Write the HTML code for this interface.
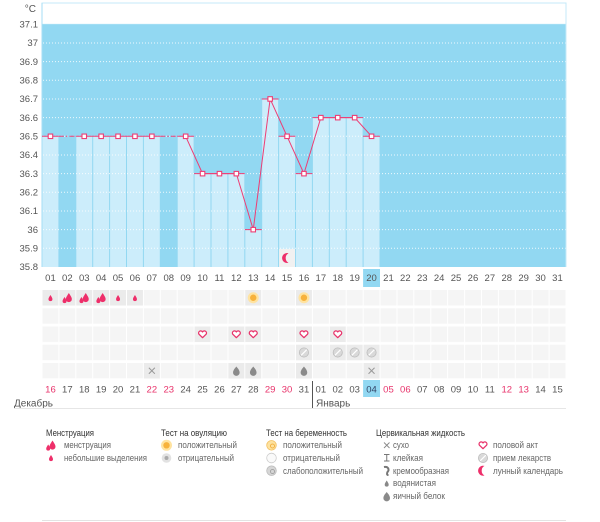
<!DOCTYPE html>
<html><head><meta charset="utf-8"><style>
html,body{margin:0;padding:0;background:#fff;}
svg{display:block;font-family:"Liberation Sans","DejaVu Sans",sans-serif;}
.yl{font-size:9.5px;fill:#555;text-anchor:end;}
.xl{font-size:9.5px;fill:#555;text-anchor:middle;}
.xr{font-size:9.5px;fill:#e8336b;text-anchor:middle;}
.lh{font-size:9px;fill:#333;}
.lt{font-size:9px;fill:#666;}
</style></head><body>
<svg width="600" height="522" viewBox="0 0 600 522" xmlns="http://www.w3.org/2000/svg">
<defs>
<path id="dS" d="M0,-3 C0.8,-1.6 2,-0.2 2,1.1 A2,2 0 0 1 -2,1.1 C-2,-0.2 -0.8,-1.6 0,-3Z" fill="#ee2f6a"/>
<g id="dB"><path d="M0,-4.5 C1.2,-2.4 3,-0.4 3,1.6 A3,3 0 0 1 -3,1.6 C-3,-0.4 -1.2,-2.4 0,-4.5Z" fill="#ee2f6a" transform="translate(1.5,-0.5)"/><use href="#dS" transform="translate(-2.8,2)"/></g>
<g id="sun"><circle r="5.5" fill="#ffe3a0"/><circle r="3.2" fill="#f7b23c"/></g>
<path id="heart" d="M0,3.2 L-3.6,-0.3 A1.9,1.9 0 0 1 0,-2.6 A1.9,1.9 0 0 1 3.6,-0.3 Z" fill="#fff" stroke="#e8336b" stroke-width="1.3" stroke-linejoin="round"/>
<g id="pill"><circle r="4.6" fill="#d9d9d9" stroke="#bdbdbd" stroke-width="0.8"/><line x1="-2.8" y1="2.8" x2="2.8" y2="-2.8" stroke="#fff" stroke-width="1.2"/></g>
<path id="egg" d="M0,-4.5 C1.6,-2.6 3.3,-0.6 3.3,1.6 A3.3,3.3 0 0 1 -3.3,1.6 C-3.3,-0.6 -1.6,-2.6 0,-4.5Z" fill="#8a8a8a"/>
<g id="xx" stroke="#999" stroke-width="1"><line x1="-3" y1="-3" x2="3" y2="3"/><line x1="-3" y1="3" x2="3" y2="-3"/></g>
<path id="moon" d="M1.5,-4.8 A5,5 0 1 0 1.5,4.8 A5.5,5.5 0 0 1 1.5,-4.8Z" fill="#ee2f6a"/>
<pattern id="cell" x="42" y="290" width="16.903" height="18.25" patternUnits="userSpaceOnUse"><rect x="0.5" y="0" width="15.9" height="15.5" fill="#f5f5f5"/></pattern>
</defs>

<!-- chart frame -->
<rect x="42" y="3" width="524" height="21.3" fill="#fff" stroke="#c4eaf8" stroke-width="1"/>
<rect x="42" y="24.3" width="524" height="242.7" fill="#92d8f2"/>
<!-- light bars -->
<g fill="#ccedfb">
<rect x="42.5" y="136.3" width="15.9" height="130.7"/>
<rect x="76.3" y="136.3" width="15.9" height="130.7"/>
<rect x="93.2" y="136.3" width="15.9" height="130.7"/>
<rect x="110.1" y="136.3" width="15.9" height="130.7"/>
<rect x="127.0" y="136.3" width="15.9" height="130.7"/>
<rect x="143.9" y="136.3" width="15.9" height="130.7"/>
<rect x="177.7" y="136.3" width="15.9" height="130.7"/>
<rect x="194.6" y="173.6" width="15.9" height="93.4"/>
<rect x="211.5" y="173.6" width="15.9" height="93.4"/>
<rect x="228.4" y="173.6" width="15.9" height="93.4"/>
<rect x="245.3" y="229.6" width="15.9" height="37.4"/>
<rect x="262.2" y="99.0" width="15.9" height="168"/>
<rect x="279.1" y="136.3" width="15.9" height="130.7"/>
<rect x="296.0" y="173.6" width="15.9" height="93.4"/>
<rect x="312.9" y="117.6" width="15.9" height="149.4"/>
<rect x="329.8" y="117.6" width="15.9" height="149.4"/>
<rect x="346.7" y="117.6" width="15.9" height="149.4"/>
<rect x="363.6" y="136.3" width="15.9" height="130.7"/>
</g>
<!-- dotted grid -->
<g stroke="#fff" stroke-width="1" stroke-dasharray="1,2" opacity="0.85">
<line x1="43" y1="43" x2="566" y2="43"/>
<line x1="43" y1="61.6" x2="566" y2="61.6"/>
<line x1="43" y1="80.3" x2="566" y2="80.3"/>
<line x1="43" y1="99" x2="566" y2="99"/>
<line x1="43" y1="117.6" x2="566" y2="117.6"/>
<line x1="43" y1="136.3" x2="566" y2="136.3"/>
<line x1="43" y1="155" x2="566" y2="155"/>
<line x1="43" y1="173.6" x2="566" y2="173.6"/>
<line x1="43" y1="192.3" x2="566" y2="192.3"/>
<line x1="43" y1="211" x2="566" y2="211"/>
<line x1="43" y1="229.6" x2="566" y2="229.6"/>
<line x1="43" y1="248.3" x2="566" y2="248.3"/>
</g>
<line x1="42" y1="3" x2="42" y2="267" stroke="#a6def4" stroke-width="1"/>
<line x1="566" y1="3" x2="566" y2="267" stroke="#c4eaf8" stroke-width="1"/>

<!-- moon cell in chart -->
<rect x="279.1" y="249" width="16" height="18" fill="#f1f1f1"/>
<use href="#moon" x="287" y="258"/>

<!-- temperature line -->
<g stroke="#ee3d74" stroke-width="1" fill="none">
<line x1="42" y1="136.3" x2="58.9" y2="136.3"/>
<line x1="58.9" y1="136.3" x2="75.8" y2="136.3" stroke-dasharray="5,2,1.5,2"/>
<line x1="75.8" y1="136.3" x2="160.3" y2="136.3"/>
<line x1="160.3" y1="136.3" x2="177.2" y2="136.3" stroke-dasharray="5,2,1.5,2"/>
<line x1="177.2" y1="136.3" x2="194.1" y2="136.3"/>
<line x1="194.1" y1="173.6" x2="244.8" y2="173.6"/>
<line x1="244.8" y1="229.6" x2="261.7" y2="229.6"/>
<line x1="261.7" y1="99" x2="278.6" y2="99"/>
<line x1="278.6" y1="136.3" x2="295.5" y2="136.3"/>
<line x1="295.5" y1="173.6" x2="312.4" y2="173.6"/>
<line x1="312.4" y1="117.6" x2="363.1" y2="117.6"/>
<line x1="363.1" y1="136.3" x2="380" y2="136.3"/>
<polyline points="185.65,136.3 202.55,173.63 219.45,173.63 236.35,173.63 253.25,229.63 270.15,98.97 287.05,136.3 303.95,173.63 320.85,117.63 337.75,117.63 354.65,117.63 371.55,136.3"/>
</g>
<g fill="#fff" stroke="#ee3d74" stroke-width="1.1">
<rect x="48.2" y="134.05" width="4.5" height="4.5"/>
<rect x="82" y="134.05" width="4.5" height="4.5"/>
<rect x="98.9" y="134.05" width="4.5" height="4.5"/>
<rect x="115.8" y="134.05" width="4.5" height="4.5"/>
<rect x="132.7" y="134.05" width="4.5" height="4.5"/>
<rect x="149.6" y="134.05" width="4.5" height="4.5"/>
<rect x="183.4" y="134.05" width="4.5" height="4.5"/>
<rect x="200.3" y="171.4" width="4.5" height="4.5"/>
<rect x="217.2" y="171.4" width="4.5" height="4.5"/>
<rect x="234.1" y="171.4" width="4.5" height="4.5"/>
<rect x="251" y="227.4" width="4.5" height="4.5"/>
<rect x="267.9" y="96.7" width="4.5" height="4.5"/>
<rect x="284.8" y="134.05" width="4.5" height="4.5"/>
<rect x="301.7" y="171.4" width="4.5" height="4.5"/>
<rect x="318.6" y="115.4" width="4.5" height="4.5"/>
<rect x="335.5" y="115.4" width="4.5" height="4.5"/>
<rect x="352.4" y="115.4" width="4.5" height="4.5"/>
<rect x="369.3" y="134.05" width="4.5" height="4.5"/>
</g>

<!-- y labels -->
<text x="36" y="12" class="yl" style="font-size:10px">°C</text>
<text x="38" y="27.5" class="yl">37.1</text>
<text x="38" y="46.2" class="yl">37</text>
<text x="38" y="64.8" class="yl">36.9</text>
<text x="38" y="83.5" class="yl">36.8</text>
<text x="38" y="102.2" class="yl">36.7</text>
<text x="38" y="120.8" class="yl">36.6</text>
<text x="38" y="139.5" class="yl">36.5</text>
<text x="38" y="158.2" class="yl">36.4</text>
<text x="38" y="176.8" class="yl">36.3</text>
<text x="38" y="195.5" class="yl">36.2</text>
<text x="38" y="214.2" class="yl">36.1</text>
<text x="38" y="232.8" class="yl">36</text>
<text x="38" y="251.5" class="yl">35.9</text>
<text x="38" y="270.2" class="yl">35.8</text>

<!-- x labels row 1 -->
<rect x="363.1" y="269" width="16.9" height="18" fill="#92d8f2"/>
<g class="xl">
<text x="50.45" y="281">01</text><text x="67.35" y="281">02</text><text x="84.25" y="281">03</text><text x="101.15" y="281">04</text><text x="118.05" y="281">05</text><text x="134.95" y="281">06</text><text x="151.85" y="281">07</text><text x="168.75" y="281">08</text><text x="185.65" y="281">09</text><text x="202.55" y="281">10</text><text x="219.45" y="281">11</text><text x="236.35" y="281">12</text><text x="253.25" y="281">13</text><text x="270.15" y="281">14</text><text x="287.05" y="281">15</text><text x="303.95" y="281">16</text><text x="320.85" y="281">17</text><text x="337.75" y="281">18</text><text x="354.65" y="281">19</text><text x="371.55" y="281">20</text><text x="388.45" y="281">21</text><text x="405.35" y="281">22</text><text x="422.25" y="281">23</text><text x="439.15" y="281">24</text><text x="456.05" y="281">25</text><text x="472.95" y="281">26</text><text x="489.85" y="281">27</text><text x="506.75" y="281">28</text><text x="523.65" y="281">29</text><text x="540.55" y="281">30</text><text x="557.45" y="281">31</text>
</g>

<!-- icon grid -->
<rect x="42" y="290" width="524" height="88.5" fill="url(#cell)"/>
<g fill="#ebebeb">
<rect x="42.5" y="290" width="15.9" height="15.5"/><rect x="59.4" y="290" width="15.9" height="15.5"/><rect x="76.3" y="290" width="15.9" height="15.5"/><rect x="93.2" y="290" width="15.9" height="15.5"/><rect x="110.1" y="290" width="15.9" height="15.5"/><rect x="127" y="290" width="15.9" height="15.5"/>
<rect x="245.3" y="290" width="15.9" height="15.5"/><rect x="296" y="290" width="15.9" height="15.5"/>
<rect x="194.6" y="326.5" width="15.9" height="15.5"/><rect x="228.4" y="326.5" width="15.9" height="15.5"/><rect x="245.3" y="326.5" width="15.9" height="15.5"/><rect x="296" y="326.5" width="15.9" height="15.5"/><rect x="329.8" y="326.5" width="15.9" height="15.5"/>
<rect x="296" y="344.75" width="15.9" height="15.5"/><rect x="329.8" y="344.75" width="15.9" height="15.5"/><rect x="346.7" y="344.75" width="15.9" height="15.5"/><rect x="363.6" y="344.75" width="15.9" height="15.5"/>
<rect x="143.9" y="363" width="15.9" height="15.5"/><rect x="228.4" y="363" width="15.9" height="15.5"/><rect x="245.3" y="363" width="15.9" height="15.5"/><rect x="296" y="363" width="15.9" height="15.5"/><rect x="363.6" y="363" width="15.9" height="15.5"/>
</g>
<use href="#dS" x="50.45" y="298"/>
<use href="#dB" x="67.35" y="298"/>
<use href="#dB" x="84.25" y="298"/>
<use href="#dB" x="101.15" y="298"/>
<use href="#dS" x="118.05" y="298"/>
<use href="#dS" x="134.95" y="298"/>
<use href="#sun" x="253.25" y="297.75"/>
<use href="#sun" x="303.95" y="297.75"/>
<use href="#heart" x="202.55" y="334.5"/>
<use href="#heart" x="236.35" y="334.5"/>
<use href="#heart" x="253.25" y="334.5"/>
<use href="#heart" x="303.95" y="334.5"/>
<use href="#heart" x="337.75" y="334.5"/>
<use href="#pill" x="303.95" y="352.5"/>
<use href="#pill" x="337.75" y="352.5"/>
<use href="#pill" x="354.65" y="352.5"/>
<use href="#pill" x="371.55" y="352.5"/>
<use href="#xx" x="151.85" y="370.75"/>
<use href="#egg" x="236.35" y="371"/>
<use href="#egg" x="253.25" y="371"/>
<use href="#egg" x="303.95" y="371"/>
<use href="#xx" x="371.55" y="370.75"/>

<!-- x labels row 2 -->
<rect x="363.1" y="380" width="16.9" height="17" fill="#92d8f2"/>
<g>
<text x="50.45" y="392.5" class="xr">16</text><text x="67.35" y="392.5" class="xl">17</text><text x="84.25" y="392.5" class="xl">18</text><text x="101.15" y="392.5" class="xl">19</text><text x="118.05" y="392.5" class="xl">20</text><text x="134.95" y="392.5" class="xl">21</text><text x="151.85" y="392.5" class="xr">22</text><text x="168.75" y="392.5" class="xr">23</text><text x="185.65" y="392.5" class="xl">24</text><text x="202.55" y="392.5" class="xl">25</text><text x="219.45" y="392.5" class="xl">26</text><text x="236.35" y="392.5" class="xl">27</text><text x="253.25" y="392.5" class="xl">28</text><text x="270.15" y="392.5" class="xr">29</text><text x="287.05" y="392.5" class="xr">30</text><text x="303.95" y="392.5" class="xl">31</text><text x="320.85" y="392.5" class="xl">01</text><text x="337.75" y="392.5" class="xl">02</text><text x="354.65" y="392.5" class="xl">03</text><text x="371.55" y="392.5" class="xl" style="fill:#346">04</text><text x="388.45" y="392.5" class="xr">05</text><text x="405.35" y="392.5" class="xr">06</text><text x="422.25" y="392.5" class="xl">07</text><text x="439.15" y="392.5" class="xl">08</text><text x="456.05" y="392.5" class="xl">09</text><text x="472.95" y="392.5" class="xl">10</text><text x="489.85" y="392.5" class="xl">11</text><text x="506.75" y="392.5" class="xr">12</text><text x="523.65" y="392.5" class="xr">13</text><text x="540.55" y="392.5" class="xl">14</text><text x="557.45" y="392.5" class="xl">15</text>
</g>
<line x1="312.5" y1="381" x2="312.5" y2="408" stroke="#555" stroke-width="1"/>
<text x="14" y="406.5" style="font-size:10px;fill:#555">Декабрь</text>
<text x="316" y="406.5" style="font-size:10px;fill:#555">Январь</text>
<line x1="14" y1="408.5" x2="566" y2="408.5" stroke="#e6e6e6" stroke-width="1"/>

<!-- legend -->
<text x="46" y="436" class="lh" textLength="48" lengthAdjust="spacingAndGlyphs">Менструация</text>
<use href="#dB" x="51" y="445.5"/>
<text x="64" y="448" class="lt" textLength="47" lengthAdjust="spacingAndGlyphs">менструация</text>
<use href="#dS" x="51" y="458"/>
<text x="64" y="461" class="lt" textLength="83" lengthAdjust="spacingAndGlyphs">небольшие выделения</text>

<text x="161" y="436" class="lh" textLength="66" lengthAdjust="spacingAndGlyphs">Тест на овуляцию</text>
<use href="#sun" x="166.5" y="445.3"/>
<text x="178" y="448" class="lt" textLength="59" lengthAdjust="spacingAndGlyphs">положительный</text>
<circle cx="166.5" cy="458" r="4.8" fill="#e2e2e2"/><circle cx="166.5" cy="458" r="2" fill="#aaa"/>
<text x="178" y="461" class="lt" textLength="56" lengthAdjust="spacingAndGlyphs">отрицательный</text>

<text x="266" y="436" class="lh" textLength="81" lengthAdjust="spacingAndGlyphs">Тест на беременность</text>
<circle cx="271.5" cy="445.3" r="4.8" fill="#fde2a0" stroke="#f3c060" stroke-width="0.8"/><circle cx="272.5" cy="446" r="2" fill="none" stroke="#f0a830" stroke-width="0.8"/>
<text x="283" y="448" class="lt" textLength="59" lengthAdjust="spacingAndGlyphs">положительный</text>
<circle cx="271.5" cy="458" r="4.8" fill="#fafafa" stroke="#ccc" stroke-width="0.8"/>
<text x="283" y="461" class="lt" textLength="57" lengthAdjust="spacingAndGlyphs">отрицательный</text>
<circle cx="271.5" cy="470.7" r="4.8" fill="#d6d6d6" stroke="#bbb" stroke-width="0.8"/><circle cx="272.5" cy="471.5" r="2" fill="none" stroke="#999" stroke-width="0.8"/>
<text x="283" y="474" class="lt" textLength="80" lengthAdjust="spacingAndGlyphs">слабоположительный</text>

<text x="376" y="436" class="lh" textLength="89" lengthAdjust="spacingAndGlyphs">Цервикальная жидкость</text>
<g stroke="#888" stroke-width="0.9"><line x1="384" y1="442.5" x2="389.5" y2="448"/><line x1="384" y1="448" x2="389.5" y2="442.5"/></g>
<text x="393" y="448" class="lt" textLength="16" lengthAdjust="spacingAndGlyphs">сухо</text>
<g stroke="#777" stroke-width="1"><line x1="384" y1="454.5" x2="389.5" y2="454.5"/><line x1="386.75" y1="454.5" x2="386.75" y2="461"/><line x1="384" y1="461" x2="389.5" y2="461"/></g>
<text x="393" y="461" class="lt" textLength="30" lengthAdjust="spacingAndGlyphs">клейкая</text>
<path d="M384,467 C388.5,466 389.5,470 387.5,472 C386.5,474 387,475 388.5,475" fill="none" stroke="#777" stroke-width="2"/>
<text x="393" y="474" class="lt" textLength="56" lengthAdjust="spacingAndGlyphs">кремообразная</text>
<path d="M0,-3 C0.8,-1.6 2,-0.2 2,1.1 A2,2 0 0 1 -2,1.1 C-2,-0.2 -0.8,-1.6 0,-3Z" fill="#888" transform="translate(386.7,483.5)"/>
<text x="393" y="486" class="lt" textLength="43" lengthAdjust="spacingAndGlyphs">водянистая</text>
<use href="#egg" x="386.7" y="496.5"/>
<text x="393" y="499" class="lt" textLength="52" lengthAdjust="spacingAndGlyphs">яичный белок</text>

<use href="#heart" x="483" y="445.5"/>
<text x="493" y="448" class="lt" textLength="45" lengthAdjust="spacingAndGlyphs">половой акт</text>
<use href="#pill" x="483" y="458"/>
<text x="493" y="461" class="lt" textLength="58" lengthAdjust="spacingAndGlyphs">прием лекарств</text>
<use href="#moon" x="483" y="470.7"/>
<text x="493" y="474" class="lt" textLength="70" lengthAdjust="spacingAndGlyphs">лунный календарь</text>

<line x1="42" y1="520.5" x2="566" y2="520.5" stroke="#e3e3e3" stroke-width="1"/>
</svg>
</body></html>
